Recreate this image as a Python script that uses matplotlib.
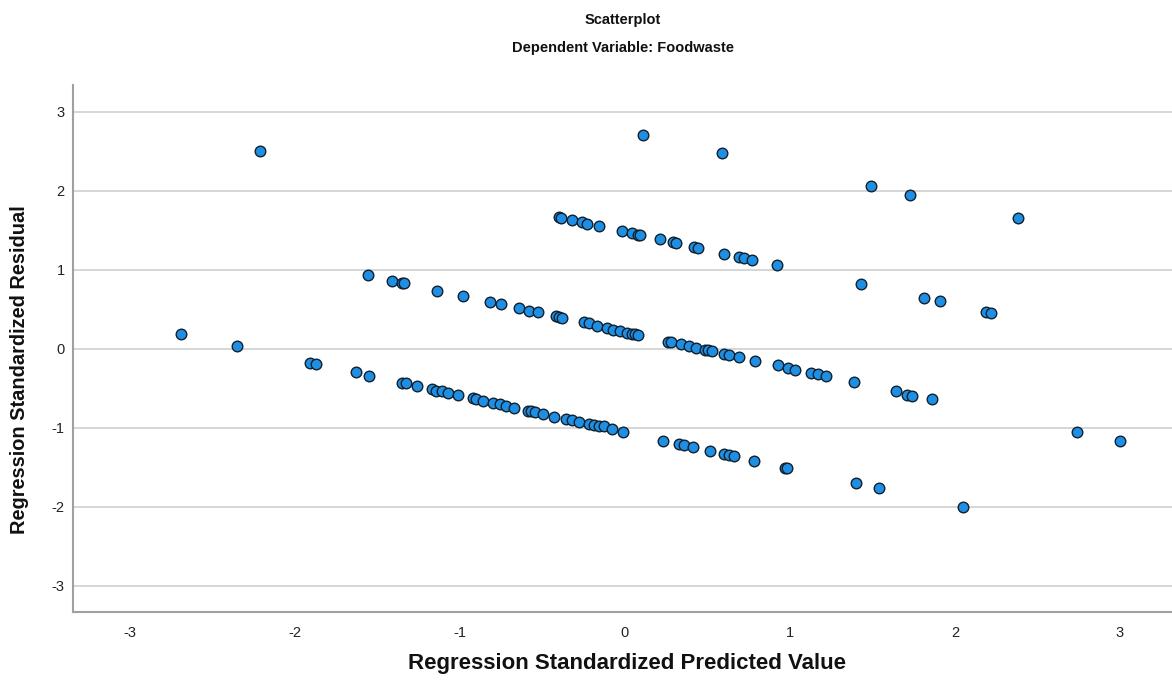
import matplotlib
matplotlib.use("Agg")
import matplotlib.pyplot as plt

# Regression standardized predicted values (x) and residuals (y)
pred_values = [
    # isolated left
    -2.69, -2.35, -2.21, -1.91, -1.87, -1.63, -1.55,
    # middle band
    -1.56, -1.41, -1.35, -1.34, -1.14, -0.98, -0.82, -0.75, -0.64, -0.58, -0.53,
    -0.42, -0.40, -0.38, -0.25, -0.22, -0.17, -0.11, -0.07, -0.03, 0.01, 0.04,
    0.06, 0.08, 0.26, 0.28, 0.34, 0.39, 0.43, 0.485, 0.505, 0.525, 0.60, 0.63,
    0.69, 0.79, 0.93, 0.99, 1.03, 1.13, 1.17, 1.22, 1.39, 1.64, 1.71, 1.74, 1.86,
    # top band
    -0.40, -0.39, -0.32, -0.26, -0.23, -0.16, -0.02, 0.04, 0.08, 0.09, 0.21,
    0.29, 0.31, 0.42, 0.44, 0.60, 0.69, 0.72, 0.77, 0.92,
    # outliers top / right
    0.11, 0.59, 1.49, 1.73, 2.38, 1.43, 1.81, 1.91, 2.19, 2.22, 2.74, 3.00,
    # lower band
    -1.35, -1.33, -1.26, -1.17, -1.145, -1.11, -1.07, -1.01, -0.92, -0.90, -0.86,
    -0.80, -0.76, -0.72, -0.67, -0.59, -0.57, -0.545, -0.495, -0.43, -0.36, -0.32,
    -0.28, -0.22, -0.19, -0.16, -0.13, -0.08, -0.01, 0.23, 0.33, 0.36, 0.41, 0.515,
    0.60, 0.63, 0.66, 0.78, 0.97, 0.98, 1.40, 1.54, 2.05,
]
resid_values = [
    0.19, 0.03, 2.50, -0.18, -0.19, -0.30, -0.34,
    0.93, 0.86, 0.83, 0.83, 0.73, 0.67, 0.59, 0.57, 0.51, 0.48, 0.46,
    0.41, 0.40, 0.39, 0.334, 0.328, 0.29, 0.26, 0.24, 0.22, 0.20, 0.19,
    0.19, 0.17, 0.09, 0.085, 0.055, 0.034, 0.013, -0.013, -0.02, -0.033, -0.063, -0.076,
    -0.105, -0.152, -0.21, -0.24, -0.266, -0.304, -0.32, -0.35, -0.42, -0.54, -0.58, -0.595, -0.64,
    1.67, 1.66, 1.625, 1.60, 1.58, 1.553, 1.49, 1.46, 1.445, 1.44, 1.385,
    1.347, 1.334, 1.287, 1.275, 1.203, 1.157, 1.144, 1.123, 1.06,
    2.70, 2.48, 2.06, 1.95, 1.65, 0.82, 0.64, 0.60, 0.47, 0.45, -1.05, -1.17,
    -0.438, -0.44, -0.472, -0.514, -0.531, -0.54, -0.557, -0.59, -0.628, -0.633, -0.658,
    -0.687, -0.704, -0.722, -0.747, -0.785, -0.79, -0.806, -0.823, -0.86, -0.886, -0.903,
    -0.924, -0.953, -0.962, -0.975, -0.983, -1.016, -1.05, -1.165, -1.206, -1.215, -1.248, -1.30,
    -1.333, -1.34, -1.362, -1.422, -1.506, -1.506, -1.70, -1.767, -2.00,
]
tick_values = [-3, -2, -1, 0, 1, 2, 3]

title_text = "Scatterplot"
subtitle_text = "Dependent Variable: Foodwaste"
x_label = "Regression Standardized Predicted Value"
y_label = "Regression Standardized Residual"

plt.rcParams['font.family'] = ['Liberation Sans', 'DejaVu Sans']

fig = plt.figure(figsize=(11.72, 6.86), dpi=100)
ax = fig.add_axes([73 / 1172, 1 - 612 / 686, 1 - 73 / 1172, (612 - 85) / 686])

ax.scatter(pred_values, resid_values, s=58, c='#1e8fe3', edgecolors='#10202e',
           linewidths=1.0, zorder=3)

ax.set_xlim(-3.345, 3.315)
ax.set_ylim(-3.333, 3.338)
ax.set_xticks(tick_values)
ax.set_yticks(tick_values)
ax.set_xticklabels([str(t) for t in tick_values])
ax.set_yticklabels([str(t) for t in tick_values])
ax.tick_params(axis='both', length=0, labelsize=10.5, colors='#222222')
ax.tick_params(axis='x', pad=10)
ax.tick_params(axis='y', pad=6)

ax.yaxis.grid(True, color='#d3d3d3', linewidth=1.3, zorder=1)
ax.xaxis.grid(False)
ax.set_axisbelow(True)

for side in ['top', 'right']:
    ax.spines[side].set_visible(False)
for side in ['left', 'bottom']:
    ax.spines[side].set_color('#a0a0a0')
    ax.spines[side].set_linewidth(1.5)

axc = (73 + 1172) / 2 / 1172
fig.text(axc, 1 - 20 / 686, title_text, ha='center', va='center',
         fontsize=10.5, fontweight='bold', color='#111111')
fig.text(axc, 1 - 48 / 686, subtitle_text, ha='center', va='center',
         fontsize=10.5, fontweight='bold', color='#111111')
fig.text(627 / 1172, 1 - 663 / 686, x_label, ha='center', va='center',
         fontsize=16, fontweight='bold', color='#111111')
fig.text(20 / 1172, 1 - 370 / 686, y_label, ha='center', va='center',
         rotation=90, fontsize=14.4, fontweight='bold', color='#111111')

fig.savefig('out.png', dpi=100)
